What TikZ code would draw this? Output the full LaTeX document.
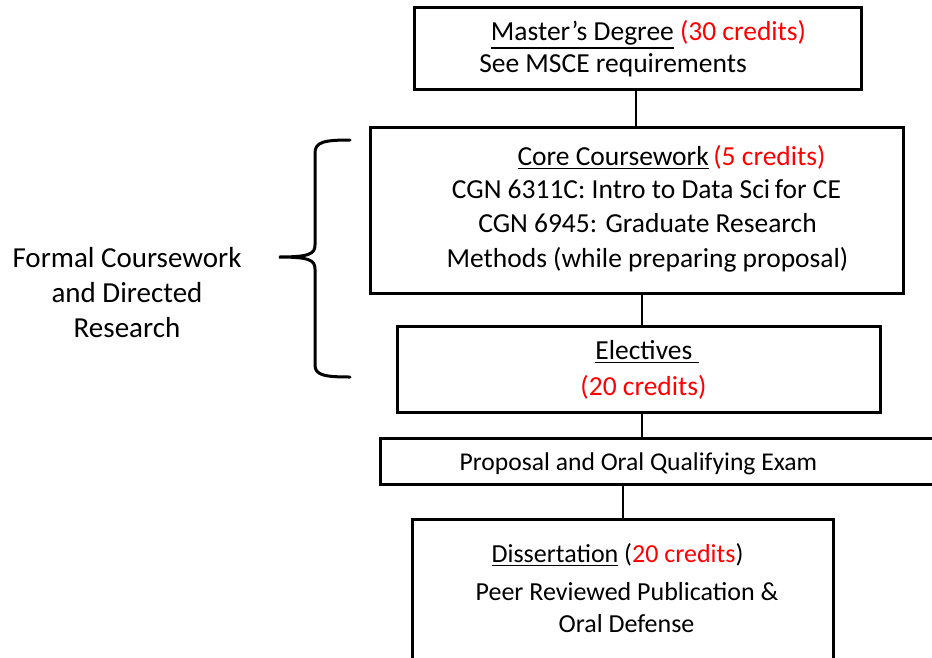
\documentclass[tikz,border=0pt]{standalone}
\usepackage{fontspec}
\setmainfont{Carlito}
\definecolor{credred}{RGB}{255,0,0}
\newcommand\ulx[1]{\leavevmode\vtop{\hbox{#1}\kern2.4pt\hrule height 1.7pt}}
\begin{document}
\begin{tikzpicture}[x=1pt,y=-1pt,
  box/.style={draw=black,line width=3pt,fill=white,inner sep=0pt,outer sep=0pt},
  conn/.style={draw=black,line width=2.6pt},
  txt/.style={anchor=base,inner sep=0pt,font=\fontsize{27.5}{32}\selectfont},
  txtl/.style={anchor=base,inner sep=0pt,font=\fontsize{29}{34}\selectfont},
  txtp/.style={anchor=base,inner sep=0pt,font=\fontsize{25.6}{30}\selectfont},
  txtd/.style={anchor=base,inner sep=0pt,font=\fontsize{26}{30}\selectfont},
  red/.style={text=credred}]
\useasboundingbox (0,0) rectangle (932,657);
\clip (0,0) rectangle (932,657);
% boxes
\node[box,minimum width=447pt,minimum height=82pt] (master) at (637.5,48) {};
\node[box,minimum width=533pt,minimum height=166pt] (core) at (636.5,210) {};
\node[box,minimum width=483pt,minimum height=86pt] (elec) at (638.5,369) {};
\node[box,minimum width=580pt,minimum height=46pt] (prop) at (670,461) {};
\node[box,minimum width=421pt,minimum height=170pt] (diss) at (622.5,604) {};
% connector x positions
\coordinate (x1) at (636,0);
\coordinate (x2) at (642,0);
\coordinate (x3) at (623,0);
\draw[conn] (master.south -| x1) -- (core.north -| x1);
\draw[conn] (core.south -| x2) -- (elec.north -| x2);
\draw[conn] (elec.south -| x2) -- (prop.north -| x2);
\draw[conn] (prop.south -| x3) -- (diss.north -| x3);
% texts
\node[txt] (m1) at (648.5,40) {\ulx{Master’s Degree} \textcolor{credred}{(30 credits)}};
\node[txt] (m2) at (613,72) {See MSCE requirements};
\node[txt] (c1) at (671.5,165) {\ulx{Core Coursework}\,\textcolor{credred}{(5 credits)}};
\node[txt] (c2) at (646.5,198) {CGN 6311C: Intro to Data Sci\,for CE};
\node[txt] (c3) at (647.5,232) {CGN 6945: Graduate Research};
\node[txt] (c4) at (647.5,267) {Methods (while preparing proposal)};
\node[txt] (e1) at (647,359) {\ulx{Electives\ }};
\node[txt,red] (e2) at (643.5,395) {(20 credits)};
\node[txtp] (p1) at (638.5,470) {Proposal and Oral Qualifying Exam};
\node[txtd] (d1) at (617.5,562) {\ulx{Dissertation} (\textcolor{credred}{20 credits})};
\node[txtd] (d2) at (627,600) {Peer Reviewed Publication \&};
\node[txtd] (d3) at (626.5,632) {Oral Defense};
\node[txtl] (l1) at (127,267) {Formal Coursework};
\node[txtl] (l2) at (127,302) {and Directed};
\node[txtl] (l3) at (127,337) {Research};
% brace
\draw[line width=3pt,line cap=round]
  (350,140) .. controls (324,140) and (315,142) .. (315,153) -- (315,245)
  .. controls (315,254) and (309,257) .. (279,257)
  .. controls (309,257) and (315,260) .. (315,269) -- (315,365)
  .. controls (315,375) and (324,377) .. (350,377);
\end{tikzpicture}
\end{document}
